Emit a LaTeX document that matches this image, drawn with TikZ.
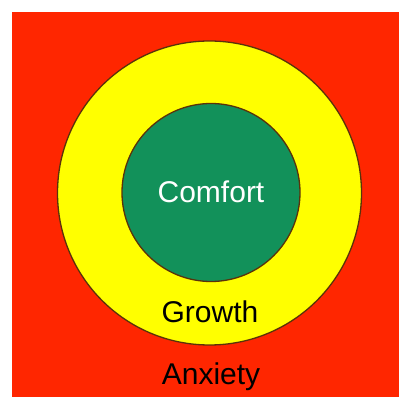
\documentclass[tikz,border=0pt]{standalone}
\usepackage{fontspec}
\setmainfont{Liberation Sans}
\definecolor{zred}{RGB}{255,38,0}
\definecolor{zyellow}{RGB}{255,255,0}
\definecolor{zgreen}{RGB}{18,145,90}
\definecolor{zedge}{RGB}{90,50,10}
\tikzset{
  zone/.style={draw=zedge, line width=1.3pt},
  lbl/.style={font=\fontsize{30}{35}\selectfont, inner sep=0pt}
}
\begin{document}
\begin{tikzpicture}[x=1pt,y=1pt]
\useasboundingbox (0,0) rectangle (400,397);
\fill[white] (0,0) rectangle (400,397);
\fill[zred] (12,0) rectangle (399,385);
\node[zone, fill=zyellow, circle, minimum size=304pt, inner sep=0pt] (growth) at (209.5,204) {};
\node[zone, fill=zgreen, circle, minimum size=178pt, inner sep=0pt] (comfort) at (211,204.5) {};
\node[lbl, text=white] (tcomfort) at (211,205) {Comfort};
\node[lbl, text=black] (tgrowth) at (210,85) {Growth};
\node[lbl, text=black] (tanxiety) at (211,20) {Anxiety};
\end{tikzpicture}
\end{document}
